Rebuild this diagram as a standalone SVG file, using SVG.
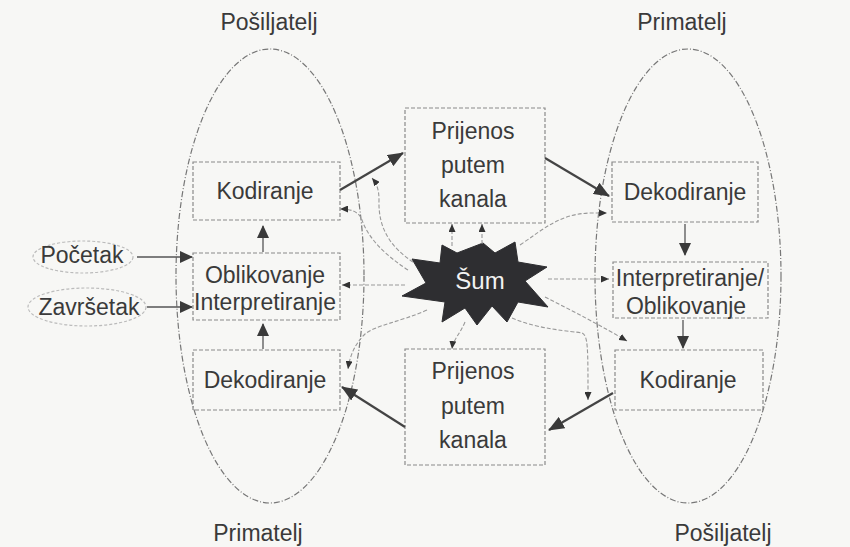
<svg xmlns="http://www.w3.org/2000/svg" width="850" height="547" viewBox="0 0 850 547">
<defs>
<marker id="big" markerUnits="userSpaceOnUse" markerWidth="16" markerHeight="13" viewBox="0 0 16 13" refX="15" refY="6.5" orient="auto"><path d="M0,0 L16,6.5 L0,13 z" fill="#3a3a3a"/></marker>
<marker id="mid" markerUnits="userSpaceOnUse" markerWidth="13" markerHeight="12" viewBox="0 0 13 12" refX="12" refY="6" orient="auto"><path d="M0,0 L13,6 L0,12 z" fill="#3a3a3a"/></marker>
<marker id="sm" markerUnits="userSpaceOnUse" markerWidth="8" markerHeight="7" viewBox="0 0 8 7" refX="8" refY="3.5" orient="auto"><path d="M0,0 L8,3.5 L0,7 z" fill="#333"/></marker>
<style>
text{font-family:"Liberation Sans",Arial,sans-serif;font-size:23px;fill:#3a3a3a;text-anchor:middle}
.ell{fill:none;stroke:#777;stroke-width:1.2;stroke-dasharray:6 2 1 2}
.box{fill:none;stroke:#8a8a8a;stroke-width:1.2;stroke-dasharray:4 2}
.main{fill:none;stroke:#444;stroke-width:2.2;marker-end:url(#big)}
.inner{fill:none;stroke:#555;stroke-width:1.3;marker-end:url(#mid)}
.noise{fill:none;stroke:#999;stroke-width:1.1;stroke-dasharray:4 2;marker-end:url(#sm)}
.start{fill:none;stroke:#bbb;stroke-width:1.2;stroke-dasharray:3 2}
</style>
</defs>
<rect width="850" height="547" fill="#f7f7f5"/>

<g id="sender-left">
<ellipse class="ell" cx="270" cy="276" rx="94" ry="227"/>
<text x="269" y="30">Pošiljatelj</text>
<text x="258" y="541">Primatelj</text>
</g>
<g id="receiver-right">
<ellipse class="ell" cx="688" cy="276" rx="93" ry="227"/>
<text x="682" y="30">Primatelj</text>
<text x="723" y="541">Pošiljatelj</text>
</g>

<g id="pocetak"><ellipse class="start" cx="83" cy="257" rx="50" ry="16"/><text x="82" y="263">Početak</text></g>
<g id="zavrsetak"><ellipse class="start" cx="87" cy="307" rx="59" ry="19"/><text x="89" y="315">Završetak</text></g>

<g id="left-kodiranje"><rect class="box" x="193" y="162" width="147" height="58"/><text x="265" y="199">Kodiranje</text></g>
<g id="left-oblikovanje"><rect class="box" x="193" y="253" width="147" height="67"/><text x="265" y="283">Oblikovanje</text><text x="265" y="310">Interpretiranje</text></g>
<g id="left-dekodiranje"><rect class="box" x="193" y="350" width="147" height="60"/><text x="265" y="388">Dekodiranje</text></g>

<g id="top-channel"><rect class="box" x="405" y="108" width="140" height="115"/><text x="473" y="139">Prijenos</text><text x="473" y="173">putem</text><text x="473" y="207">kanala</text></g>
<g id="bottom-channel"><rect class="box" x="405" y="349" width="140" height="116"/><text x="473" y="379">Prijenos</text><text x="473" y="414">putem</text><text x="473" y="448">kanala</text></g>

<g id="right-dekodiranje"><rect class="box" x="612" y="162" width="146" height="60"/><text x="685" y="200">Dekodiranje</text></g>
<g id="right-interpretiranje"><rect class="box" x="613" y="262" width="155" height="56"/><text x="690" y="286">Interpretiranje/</text><text x="686" y="314">Oblikovanje</text></g>
<g id="right-kodiranje"><rect class="box" x="615" y="350" width="148" height="60"/><text x="688" y="388">Kodiranje</text></g>

<g id="sum">
<polygon points="442,245 457,253 483,243 495,253 515,242 518,262 547,267 525,281 548,307 518,302 507,322 492,306 477,325 465,308 442,322 445,302 402,296 426,283 412,259 440,263" fill="#2e2e31" stroke="#2e2e31" stroke-width="1"/>
<text x="480" y="289" style="fill:#f2f2f2;font-size:24px">Šum</text>
</g>

<g id="connectors">
<line class="main" x1="340" y1="190" x2="403" y2="153"/>
<line class="main" x1="545" y1="158" x2="609" y2="196"/>
<line class="main" x1="613" y1="393" x2="549" y2="430"/>
<line class="main" x1="405" y1="427" x2="342" y2="387"/>

<line class="inner" x1="263" y1="252" x2="263" y2="226"/>
<line class="inner" x1="263" y1="349" x2="263" y2="324"/>
<line class="inner" x1="685" y1="224" x2="685" y2="255"/>
<line class="inner" x1="683" y1="320" x2="683" y2="348"/>
<line class="inner" x1="137" y1="257" x2="192" y2="257"/>
<line class="inner" x1="147" y1="307" x2="192" y2="307"/>

<line class="noise" x1="452" y1="246" x2="452" y2="224"/>
<line class="noise" x1="482" y1="244" x2="482" y2="224"/>
<line class="noise" x1="405" y1="285" x2="342" y2="285"/>
<path class="noise" d="M413,262 C392,248 378,230 379,200 C379,190 377,184 372,178"/>
<path class="noise" d="M408,270 C385,255 368,238 362,220 C359,212 352,209 340,209"/>
<path class="noise" d="M520,245 C545,228 560,214 590,213 L607,213"/>
<line class="noise" x1="548" y1="279" x2="609" y2="279"/>
<path class="noise" d="M545,297 C575,312 605,328 627,341"/>
<path class="noise" d="M512,318 C540,330 572,331 582,333 C588,336 588,346 588,400"/>
<path class="noise" d="M465,322 C460,334 453,340 452,349"/>
<path class="noise" d="M427,310 C400,322 376,325 365,334 C355,344 350,355 348,369"/>
</g>
</svg>
